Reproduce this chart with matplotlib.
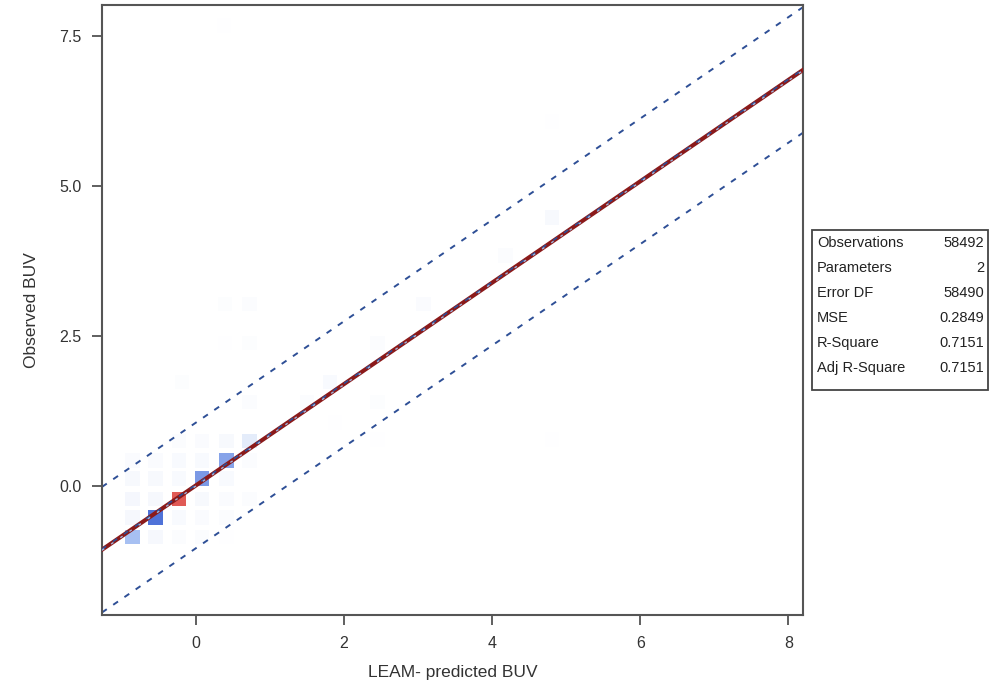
import matplotlib
matplotlib.use("Agg")
import matplotlib.pyplot as plt
import numpy as np
from matplotlib.colors import LinearSegmentedColormap, Normalize
from matplotlib.patches import Rectangle

plt.rcParams['font.family'] = ['Liberation Sans', 'DejaVu Sans']

# Heat map cells (bin centres) and counts
cell_x = [-0.86, -0.55, -0.23, 0.08, 0.41,
          -0.86, -0.55, -0.23, 0.08, 0.41,
          -0.86, -0.55, -0.23, 0.08, 0.41, 0.72,
          -0.86, -0.55, -0.23, 0.08, 0.41,
          -0.86, -0.55, -0.23, 0.08, 0.41, 0.72,
          -0.23, 0.08, 0.41, 0.72,
          0.72, 1.50, 1.81, 1.88, -0.19,
          0.39, 0.72, 2.45, 0.39, 0.72, 3.07,
          2.45, 2.45, 2.45, 4.18, 4.81, 4.81, 4.81, 0.38]
cell_y = [-0.85, -0.85, -0.85, -0.85, -0.85,
          -0.53, -0.53, -0.53, -0.53, -0.53,
          -0.22, -0.22, -0.22, -0.22, -0.22, -0.22,
          0.12, 0.12, 0.12, 0.12, 0.12,
          0.42, 0.42, 0.42, 0.42, 0.42, 0.42,
          0.75, 0.75, 0.75, 0.75,
          1.40, 1.40, 1.73, 1.06, 1.73,
          2.38, 2.38, 2.38, 3.03, 3.03, 3.03,
          1.40, 0.77, 2.38, 3.84, 4.47, 6.07, 0.77, 7.67]
cell_n = [5200, 600, 300, 250, 120,
          600, 10500, 450, 350, 250,
          700, 650, 21000, 500, 400, 300,
          500, 550, 450, 7800, 450,
          350, 400, 450, 450, 7200, 300,
          300, 350, 500, 1800,
          250, 300, 450, 150, 200,
          150, 200, 350, 200, 300, 400,
          200, 120, 250, 250, 500, 150, 120, 150]

# Regression summary
intercept = 0.01
slope = 0.844
pred_half = 1.046
clm_half = 0.01
stat_names = ["Observations", "Parameters", "Error DF", "MSE", "R-Square", "Adj R-Square"]
stat_values = ["58492", "2", "58490", "0.2849", "0.7151", "0.7151"]

fig = plt.figure(figsize=(9.89, 6.94), dpi=100)
ax = fig.add_axes([0.1031, 0.1138, 0.7089, 0.8797])

cmap = LinearSegmentedColormap.from_list(
    "sasramp", [(0.0, "#ffffff"), (0.03, "#f5f7fd"), (0.09, "#e2eaf9"),
                (0.25, "#a6bff2"), (0.5, "#4f72d8"), (0.75, "#6a56b8"),
                (1.0, "#e05a55")])
ax.scatter(cell_x, cell_y, c=cell_n, cmap=cmap, norm=Normalize(0, max(cell_n)),
           marker='s', s=110, linewidths=0, zorder=1)

xs = np.array([-1.27, 8.2])
fit = intercept + slope * xs
ax.plot(xs, fit, color="#8b1a1a", lw=3.0, zorder=3)
ax.plot(xs, fit + clm_half, color="#2e4f96", lw=1.2, ls=(0, (3, 5)), zorder=4)
ax.plot(xs, fit - clm_half, color="#9fb4dc", lw=1.0, ls=(0, (2, 6)), zorder=4)
ax.plot(xs, fit + pred_half, color="#2e4f96", lw=1.4, ls=(0, (3, 4)), zorder=2)
ax.plot(xs, fit - pred_half, color="#2e4f96", lw=1.4, ls=(0, (3, 4)), zorder=2)

ax.set_xlim(-1.27, 8.2)
ax.set_ylim(-2.15, 8.02)
ax.set_xticks([0, 2, 4, 6, 8])
ax.set_yticks([0.0, 2.5, 5.0, 7.5])
ax.set_yticklabels(["0.0", "2.5", "5.0", "7.5"])
ax.tick_params(direction='out', length=7, width=1.2, color="#444444",
               labelsize=11.5, labelcolor="#333333", pad=8)
for sp in ax.spines.values():
    sp.set_color("#555555")
    sp.set_linewidth(1.5)

ax.set_xlabel("LEAM- predicted BUV", fontsize=12.5, color="#333333", labelpad=10)
ax.set_ylabel("Observed BUV", fontsize=12.5, color="#333333", labelpad=14)

# Statistics inset box
W, H = 989.0, 694.0
box_l, box_r, box_t, box_b = 812, 988, 230, 390
fig.patches.append(Rectangle((box_l / W, 1 - box_b / H), (box_r - box_l) / W,
                             (box_b - box_t) / H, transform=fig.transFigure,
                             facecolor="white", edgecolor="#444444", lw=1.3))
for i, (name, val) in enumerate(zip(stat_names, stat_values)):
    yy = 1 - (243 + 25 * i) / H
    fig.text(817 / W, yy, name, fontsize=10.5, color="#222222", va='center', ha='left')
    fig.text(984 / W, yy, val, fontsize=10.5, color="#222222", va='center', ha='right')

fig.savefig("out.png", dpi=100)
